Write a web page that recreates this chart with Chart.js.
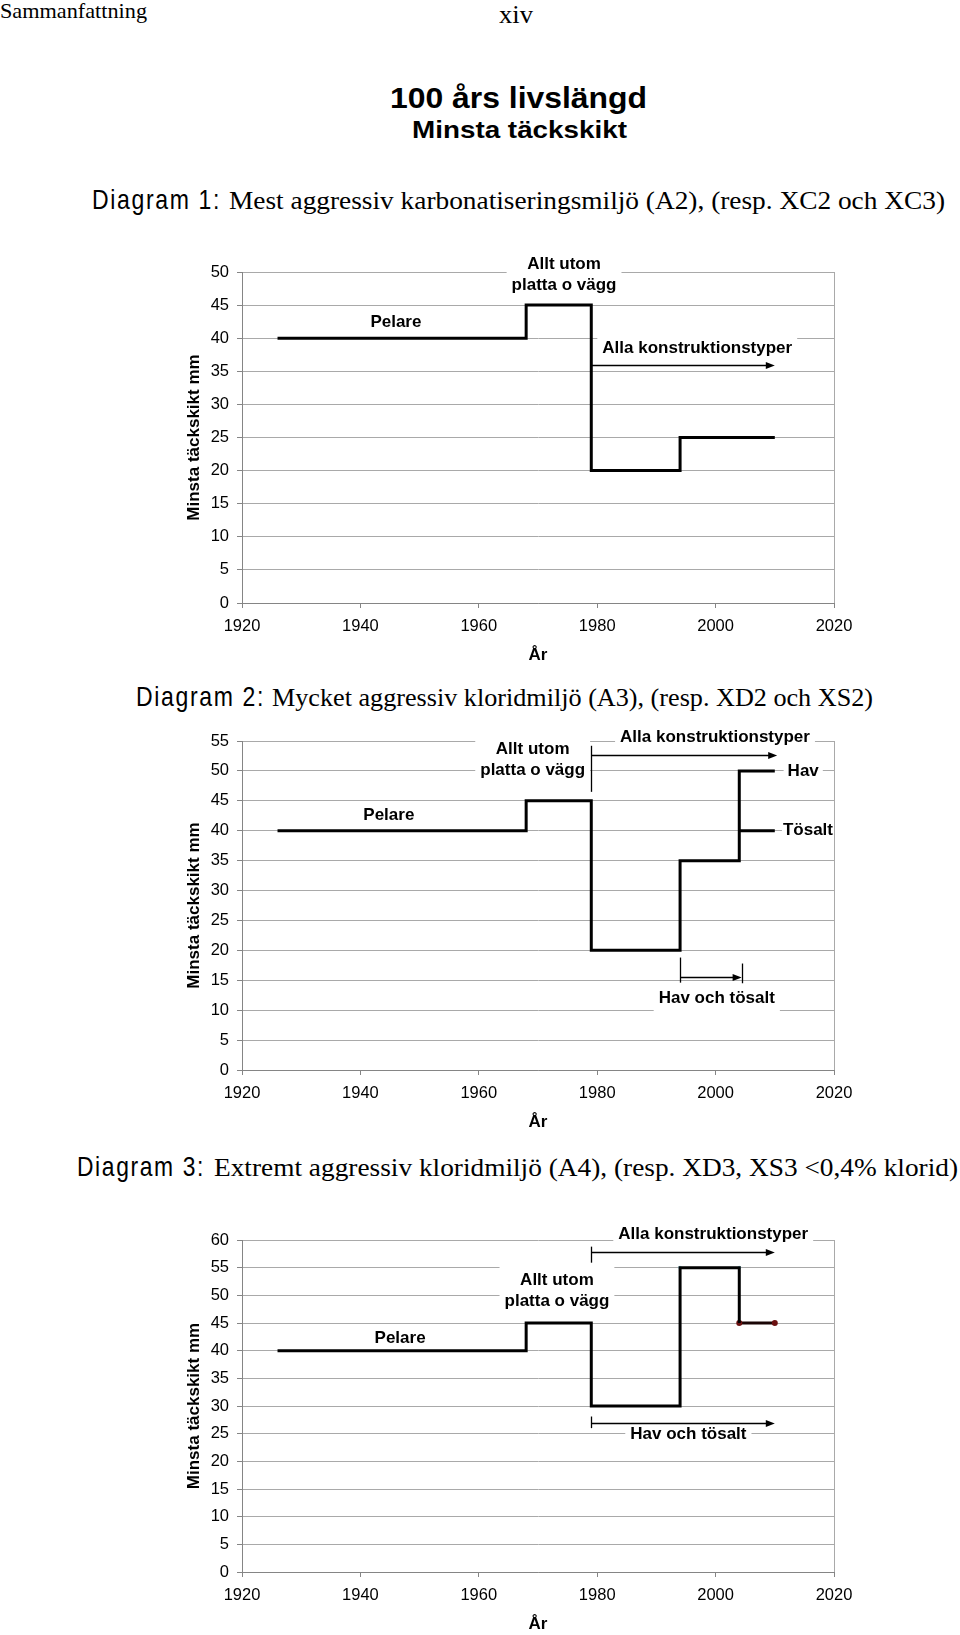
<!DOCTYPE html>
<html lang="sv">
<head>
<meta charset="UTF-8">
<title>100 års livslängd – Minsta täckskikt</title>
<script src="https://cdn.jsdelivr.net/npm/chart.js@4"></script>
<style>
    html, body {
        margin: 0;
        padding: 0;
        background: #fff;
    }
    #page {
        position: relative;
        width: 960px;
        height: 1635px;
        overflow: hidden;
    }
    .hd {
        position: absolute;
        white-space: nowrap;
        line-height: 1;
        transform-origin: 0 0;
        color: #000;
    }
    .serif { font-family: "Liberation Serif", "Times New Roman", serif; }
    .sans { font-family: "Liberation Sans", Arial, sans-serif; font-weight: bold; }
    .narrow { font-family: "Liberation Sans Narrow", "Arial Narrow", "Liberation Sans", sans-serif; letter-spacing: 2px; }
    canvas {
        position: absolute;
        left: 0;
    }
</style>
</head>
<body>
<div id="page">
    <span class="hd serif" style="left:0px;top:-0.5px;font-size:22px" data-w="147">Sammanfattning</span>
    <span class="hd serif" style="left:499px;top:1.5px;font-size:25px" data-w="34">xiv</span>

    <span class="hd sans" style="left:390px;top:83.8px;font-size:29px" data-w="257">100 års livslängd</span>
    <span class="hd sans" style="left:412px;top:118px;font-size:24px" data-w="215">Minsta täckskikt</span>

    <span class="hd narrow" style="left:92px;top:186px;font-size:28px" data-w="129">Diagram 1:</span>
    <span class="hd serif" style="left:229px;top:188px;font-size:26px" data-w="716">Mest aggressiv karbonatiseringsmiljö (A2), (resp. XC2 och XC3)</span>

    <span class="hd narrow" style="left:136px;top:682.5px;font-size:28px" data-w="129">Diagram 2:</span>
    <span class="hd serif" style="left:272px;top:684.5px;font-size:26px" data-w="601">Mycket aggressiv kloridmiljö (A3), (resp. XD2 och XS2)</span>

    <span class="hd narrow" style="left:77px;top:1153px;font-size:28px" data-w="128">Diagram 3:</span>
    <span class="hd serif" style="left:214px;top:1155px;font-size:26px" data-w="744">Extremt aggressiv kloridmiljö (A4), (resp. XD3, XS3 &lt;0,4% klorid)</span>

    <canvas id="chart1" width="960" height="445" style="top:225px"></canvas>
    <canvas id="chart2" width="960" height="428" style="top:712px"></canvas>
    <canvas id="chart3" width="960" height="450" style="top:1185px"></canvas>
</div>

<script>
    // Diagram 1 – karbonatisering (A2)
    const d1Years = [1926, 1968, 1979, 1994, 2010];
    const d1Cover = [40, 45, 20, 25, 25];

    // Diagram 2 – kloridmiljö (A3), Hav och Tösalt delas 2004
    const d2Years = [1926, 1968, 1979, 1994, 2004, 2010];
    const d2CoverHav = [40, 45, 20, 35, 50, 50];
    const d2TosaltYears = [2004, 2010];
    const d2CoverTosalt = [40, 40];

    // Diagram 3 – kloridmiljö (A4)
    const d3Years = [1926, 1968, 1979, 1994, 2004];
    const d3Cover = [40, 45, 30, 55, 45];
    const d3TopYears = [1994, 2004];
    const d3TopCover = [55, 55];
    const d3EndYears = [2004, 2010];
    const d3EndCover = [45, 45];

    // axlar
    const yearMin = 1920, yearMax = 2020, yearStep = 20;
    const yMaxima = [50, 55, 60];
    const yStep = 5;

    const SANS = '"Liberation Sans", Arial, sans-serif';
    Chart.defaults.font.family = SANS;
    Chart.defaults.color = '#000';

    const GRID = '#a9a9a9';
    const AXIS = '#858585';
    const LINE_H = 21;

    // skriv in etiketter, pilar och markeringsstreck i diagrammet
    const notesPlugin = {
        id: 'notes',
        beforeDatasetsDraw(chart, args, opts) {
            const { ctx, scales: { x, y } } = chart;
            ctx.save();
            ctx.font = 'bold 17px ' + SANS;
            ctx.textAlign = 'center';
            ctx.textBaseline = 'middle';

            (opts.labels || []).forEach(l => {
                const lines = l.text.split('\n');
                const cx = x.getPixelForValue(l.x);
                const cy = y.getPixelForValue(l.y);
                const w = Math.max(...lines.map(t => ctx.measureText(t).width));
                const h = lines.length * LINE_H;
                const pad = l.pad === undefined ? 5 : l.pad;
                ctx.fillStyle = '#fff';
                ctx.fillRect(cx - w / 2 - pad, cy - h / 2 - 3, w + pad * 2, h + 6);
                ctx.fillStyle = '#000';
                lines.forEach((t, i) => ctx.fillText(t, cx, cy - h / 2 + LINE_H * (i + 0.5)));
            });

            ctx.strokeStyle = '#000';
            ctx.fillStyle = '#000';
            ctx.lineWidth = 1.3;
            (opts.bars || []).forEach(b => {
                const px = Math.round(x.getPixelForValue(b.x)) + 0.5;
                ctx.beginPath();
                ctx.moveTo(px, y.getPixelForValue(b.y1));
                ctx.lineTo(px, y.getPixelForValue(b.y2));
                ctx.stroke();
            });
            (opts.arrows || []).forEach(a => {
                const x1 = x.getPixelForValue(a.x1);
                const x2 = x.getPixelForValue(a.x2);
                const py = Math.round(y.getPixelForValue(a.y)) + 0.5;
                ctx.beginPath();
                ctx.moveTo(x1, py);
                ctx.lineTo(x2 - 6, py);
                ctx.stroke();
                ctx.beginPath();
                ctx.moveTo(x2, py);
                ctx.lineTo(x2 - 9, py - 3.5);
                ctx.lineTo(x2 - 9, py + 3.5);
                ctx.closePath();
                ctx.fill();
            });
            ctx.restore();
        }
    };

    function pts(xs, ys) {
        return xs.map((v, i) => ({ x: v, y: ys[i] }));
    }

    function stepSet(data, extra) {
        return Object.assign({
            data: data,
            borderColor: '#000',
            backgroundColor: '#000',
            borderWidth: 3,
            pointRadius: 0,
            stepped: true,
            fill: false
        }, extra || {});
    }

    function makeChart(id, yMax, datasets, notes, pad) {
        return new Chart(document.getElementById(id), {
            type: 'line',
            data: { datasets: datasets },
            plugins: [notesPlugin],
            options: {
                responsive: false,
                maintainAspectRatio: false,
                animation: false,
                layout: { padding: pad },
                plugins: {
                    legend: { display: false },
                    tooltip: { enabled: false },
                    notes: notes
                },
                scales: {
                    x: {
                        type: 'linear',
                        min: yearMin,
                        max: yearMax,
                        afterFit: s => { s.height = 63; },
                        ticks: {
                            stepSize: yearStep,
                            padding: 9,
                            font: { size: 16.5 },
                            callback: v => String(v)
                        },
                        grid: {
                            color: c => (c.tick && c.tick.value === yearMax) ? GRID : 'rgba(0,0,0,0)',
                            tickColor: AXIS,
                            tickLength: 5
                        },
                        border: { color: AXIS },
                        title: {
                            display: true,
                            text: 'År',
                            font: { size: 17, weight: 'bold' },
                            padding: 0
                        }
                    },
                    y: {
                        min: 0,
                        max: yMax,
                        afterFit: s => { s.width = 80; },
                        ticks: {
                            stepSize: yStep,
                            padding: 8,
                            font: { size: 16.5 }
                        },
                        grid: {
                            color: GRID,
                            tickColor: AXIS,
                            tickLength: 5
                        },
                        border: { color: AXIS },
                        title: {
                            display: true,
                            text: 'Minsta täckskikt mm',
                            font: { size: 17, weight: 'bold' },
                            padding: { top: 22, bottom: 0 }
                        }
                    }
                }
            }
        });
    }

    makeChart('chart1', yMaxima[0],
        [stepSet(pts(d1Years, d1Cover))],
        {
            labels: [
                { text: 'Pelare', x: 1946, y: 42.4 },
                { text: 'Allt utom\nplatta o vägg', x: 1974.4, y: 49.65 },
                { text: 'Alla konstruktionstyper', x: 1996.9, y: 38.5 }
            ],
            arrows: [{ x1: 1979, x2: 2010, y: 36 }]
        },
        { left: 162, right: 126, top: 47, bottom: 4 });

    makeChart('chart2', yMaxima[1],
        [
            stepSet(pts(d2Years, d2CoverHav)),
            stepSet(pts(d2TosaltYears, d2CoverTosalt))
        ],
        {
            labels: [
                { text: 'Pelare', x: 1944.8, y: 42.5 },
                { text: 'Allt utom\nplatta o vägg', x: 1969.1, y: 51.9 },
                { text: 'Alla konstruktionstyper', x: 1999.9, y: 55.6 },
                { text: 'Hav', x: 2014.8, y: 50, pad: 4 },
                { text: 'Tösalt', x: 2015.6, y: 40, pad: 1 },
                { text: 'Hav och tösalt', x: 2000.2, y: 12 }
            ],
            arrows: [
                { x1: 1979, x2: 2010.4, y: 52.7 },
                { x1: 1994, x2: 2004.4, y: 15.5 }
            ],
            bars: [
                { x: 1979, y1: 54.2, y2: 46.5 },
                { x: 1994, y1: 18.8, y2: 14.6 },
                { x: 2004.4, y1: 17.8, y2: 14.5 }
            ]
        },
        { left: 162, right: 126, top: 29, bottom: 7 });

    makeChart('chart3', yMaxima[2],
        [
            stepSet(pts(d3Years, d3Cover)),
            stepSet(pts(d3EndYears, d3EndCover), {
                borderColor: '#1a0505',
                pointRadius: 3,
                pointBackgroundColor: '#6b1010',
                pointBorderWidth: 0
            }),
            stepSet(pts(d3TopYears, d3TopCover), {
                borderWidth: 0,
                showLine: false,
                pointRadius: 1.8,
                pointBackgroundColor: '#8fd8e6',
                pointBorderWidth: 0
            })
        ],
        {
            labels: [
                { text: 'Pelare', x: 1946.7, y: 42.3 },
                { text: 'Allt utom\nplatta o vägg', x: 1973.2, y: 50.85 },
                { text: 'Alla konstruktionstyper', x: 1999.6, y: 61.0 },
                { text: 'Hav och tösalt', x: 1995.4, y: 24.8 }
            ],
            arrows: [
                { x1: 1979, x2: 2010, y: 57.9 },
                { x1: 1979, x2: 2010, y: 27 }
            ],
            bars: [
                { x: 1979, y1: 58.8, y2: 55.9 },
                { x: 1979, y1: 28.1, y2: 26.0 }
            ]
        },
        { left: 162, right: 126, top: 55, bottom: 0 });

    // rubrikerna är något utdragna i sidled i förlagan
    document.querySelectorAll('[data-w]').forEach(el => {
        const w = el.getBoundingClientRect().width;
        el.style.transform = 'scaleX(' + (el.dataset.w / w) + ')';
    });
</script>
</body>
</html>
